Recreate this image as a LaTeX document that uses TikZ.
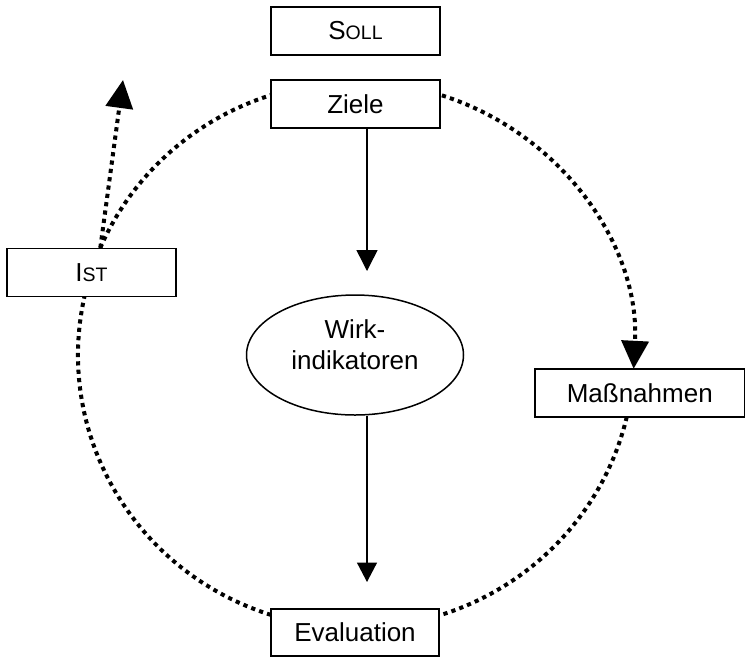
\documentclass[tikz,border=0pt]{standalone}
\usepackage{fontspec}
\setmainfont{Liberation Sans}
\usetikzlibrary{arrows.meta,shapes.geometric,calc}
\newcommand\mysmc[2]{{\fontsize{26}{31}\selectfont #1}{\fontsize{19.5}{23}\selectfont #2}}
\begin{document}
\begin{tikzpicture}[x=1pt,y=-1pt,
  box/.style={draw, line width=1.5pt, fill=white, inner sep=0pt, minimum height=48pt, font=\fontsize{26}{31}\selectfont},
  dots/.style={line width=4pt, dash pattern=on 4.2pt off 4.2pt},
  bigtip/.style={-{Triangle[length=28pt,width=27pt]}},
  solidarrow/.style={line width=1.5pt, -{Triangle[length=21pt,width=21pt]}},
]
\useasboundingbox (0,0) rectangle (746,657);
\coordinate (C) at (356,355);
\coordinate (istTop) at ($(C)+(203.1:278 and 273)$);
\coordinate (t1) at (367,271);
\coordinate (t2) at (367,582);
\coordinate (t3) at (123,80);

% dotted cycle
\draw[dots, bigtip] ($(C)+(-72:278 and 273)$) arc[start angle=-72, end angle=2.9, x radius=278, y radius=273];
\draw[dots] ($(C)+(13.1:278 and 273)$) arc[start angle=13.1, end angle=72.4, x radius=278, y radius=273];
\draw[dots] ($(C)+(107.8:278 and 273)$) arc[start angle=107.8, end angle=192.3, x radius=278, y radius=273];
\draw[dots] (istTop) arc[start angle=203.1, end angle=252.2, x radius=278, y radius=273];
\draw[dots, bigtip] (istTop) -- (t3);

% boxes
\node[box, minimum width=169pt] (soll) at (355.5,31) {\mysmc{S}{OLL}};
\node[box, minimum width=169pt] (ziele) at (355.5,104) {Ziele};
\node[box, minimum width=169pt] (ist) at (91.5,272.5) {\mysmc{I}{ST}};
\node[box, minimum width=209.5pt] (mass) at (639.75,393) {Maßnahmen};
\node[box, minimum width=168pt, minimum height=47pt] (eval) at (355,632.5) {Evaluation};
\node[draw, ellipse, line width=1.5pt, minimum width=217pt, minimum height=120pt, inner sep=0pt,
  label={[align=center, font=\fontsize{26}{31}\selectfont, yshift=10pt]center:Wirk-\\indikatoren}] (wirk) at (355,355) {};

% solid arrows
\draw[solidarrow] (ziele.south -| t1) -- (t1);
\draw[line width=1.5pt, -{Triangle[length=19.5pt,width=20pt]}] (wirk.south -| t2) -- (t2);
\end{tikzpicture}
\end{document}
